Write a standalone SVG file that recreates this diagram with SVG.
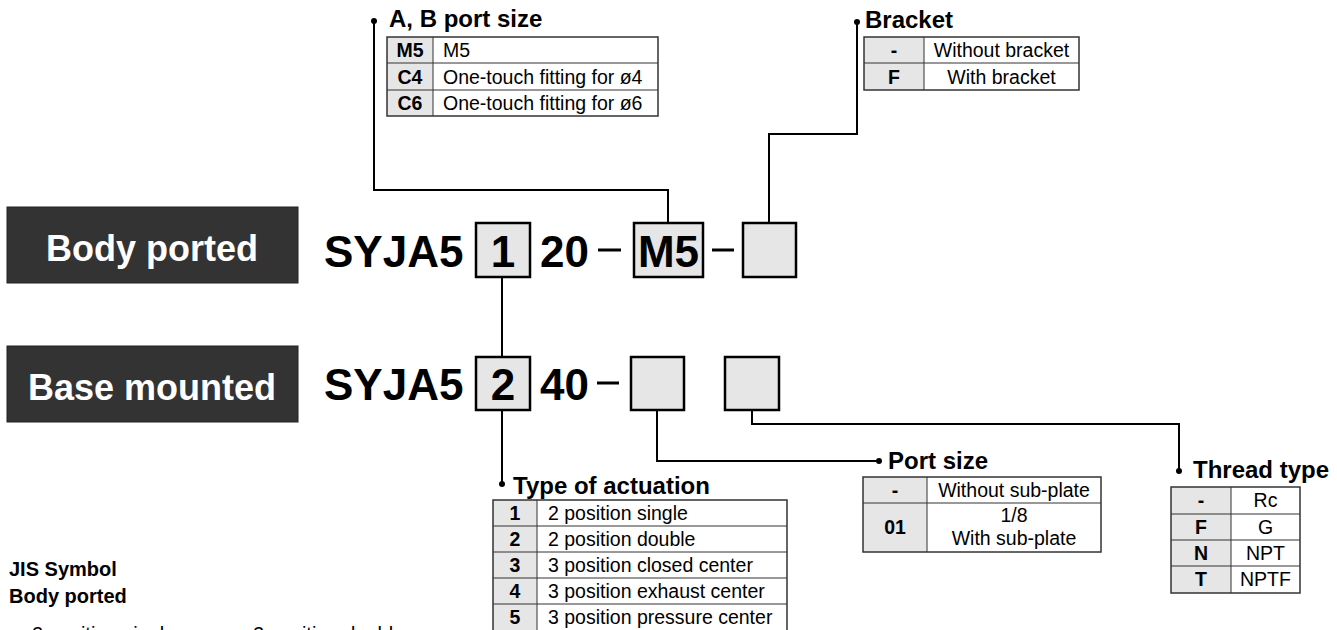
<svg xmlns="http://www.w3.org/2000/svg" width="1337" height="630" viewBox="0 0 1337 630">
<style>
text{font-family:"Liberation Sans",Arial,Helvetica,sans-serif;fill:#000}
.lbl{font-size:36px;font-weight:bold;fill:#fff}
.big{font-size:44px;font-weight:bold}
.hd{font-size:24px;font-weight:bold}
.t{font-size:19.5px}
.c{font-size:19.5px;font-weight:bold}
.mid{text-anchor:middle}
.box{fill:#e6e6e6;stroke:#000;stroke-width:2.5}
.dark{fill:#333;stroke:#222;stroke-width:1}
.code{fill:#e6e6e6}
.tb{fill:none;stroke:#333;stroke-width:1.5}
.tl{stroke:#333;stroke-width:1}
.conn{fill:none;stroke:#000;stroke-width:2}
</style>
<rect width="1337" height="630" fill="#fff"/>

<g id="body-ported-label">
<rect class="dark" x="7" y="207" width="291" height="76"/>
<text class="lbl mid" x="152" y="261">Body ported</text>
</g>
<g id="base-mounted-label">
<rect class="dark" x="7" y="346" width="291" height="76"/>
<text class="lbl mid" x="152" y="400">Base mounted</text>
</g>

<g id="model-body">
<text class="big" x="324" y="267">SYJA5</text>
<rect class="box" x="476" y="223" width="54" height="54"/>
<text class="big mid" x="503" y="267">1</text>
<text class="big" x="540" y="267">20</text>
<line x1="598" y1="250" x2="621" y2="250" stroke="#000" stroke-width="3"/>
<rect class="box" x="634" y="223" width="69" height="54"/>
<text class="big mid" x="668.5" y="267">M5</text>
<line x1="712" y1="250" x2="734" y2="250" stroke="#000" stroke-width="3"/>
<rect class="box" x="743" y="223" width="53" height="54"/>
</g>

<g id="model-base">
<text class="big" x="324" y="400">SYJA5</text>
<rect class="box" x="476" y="357" width="54" height="53"/>
<text class="big mid" x="503" y="400">2</text>
<text class="big" x="540" y="400">40</text>
<line x1="597" y1="383" x2="619" y2="383" stroke="#000" stroke-width="3"/>
<rect class="box" x="631" y="357" width="53" height="53"/>
<rect class="box" x="725" y="357" width="54" height="53"/>
</g>

<g id="connectors">
<polyline class="conn" points="668,223 668,190 374,190 374,21"/>
<polyline class="conn" points="769,223 769,134 857,134 857,22"/>
<line class="conn" x1="502" y1="277" x2="502" y2="357"/>
<line class="conn" x1="502" y1="410" x2="502" y2="484"/>
<polyline class="conn" points="657,410 657,461 879,461"/>
<polyline class="conn" points="752,410 752,424 1179,424 1179,471"/>
<circle cx="374" cy="21" r="3"/>
<circle cx="857" cy="22" r="3"/>
<circle cx="502" cy="484" r="3"/>
<circle cx="879" cy="461" r="3"/>
<circle cx="1179" cy="471" r="3"/>
</g>

<g id="ab-port-size">
<text class="hd" x="389" y="27">A, B port size</text>
<rect class="code" x="387" y="37" width="46" height="79"/>
<line class="tl" x1="387" y1="63" x2="658" y2="63"/>
<line class="tl" x1="387" y1="90" x2="658" y2="90"/>
<line class="tl" x1="433" y1="37" x2="433" y2="116"/>
<rect class="tb" x="387" y="37" width="271" height="79"/>
<text class="c mid" x="410" y="57">M5</text>
<text class="c mid" x="410" y="84">C4</text>
<text class="c mid" x="410" y="110">C6</text>
<text class="t" x="443" y="57">M5</text>
<text class="t" x="443" y="84">One-touch fitting for ø4</text>
<text class="t" x="443" y="110">One-touch fitting for ø6</text>
</g>

<g id="bracket">
<text class="hd" x="865" y="28">Bracket</text>
<rect class="code" x="864" y="37" width="60" height="53"/>
<line class="tl" x1="864" y1="63" x2="1079" y2="63"/>
<line class="tl" x1="924" y1="37" x2="924" y2="90"/>
<rect class="tb" x="864" y="37" width="215" height="53"/>
<text class="c mid" x="894" y="57">-</text>
<text class="c mid" x="894" y="84">F</text>
<text class="t mid" x="1001.5" y="57">Without bracket</text>
<text class="t mid" x="1001.5" y="84">With bracket</text>
</g>

<g id="type-of-actuation">
<text class="hd" x="513" y="494">Type of actuation</text>
<rect class="code" x="493" y="500" width="44" height="132"/>
<line class="tl" x1="493" y1="526" x2="787" y2="526"/>
<line class="tl" x1="493" y1="552" x2="787" y2="552"/>
<line class="tl" x1="493" y1="578" x2="787" y2="578"/>
<line class="tl" x1="493" y1="604" x2="787" y2="604"/>
<line class="tl" x1="537" y1="500" x2="537" y2="632"/>
<rect class="tb" x="493" y="500" width="294" height="132"/>
<text class="c mid" x="515" y="520">1</text>
<text class="c mid" x="515" y="546">2</text>
<text class="c mid" x="515" y="572">3</text>
<text class="c mid" x="515" y="598">4</text>
<text class="c mid" x="515" y="624">5</text>
<text class="t" x="548" y="520">2 position single</text>
<text class="t" x="548" y="546">2 position double</text>
<text class="t" x="548" y="572">3 position closed center</text>
<text class="t" x="548" y="598">3 position exhaust center</text>
<text class="t" x="548" y="624">3 position pressure center</text>
</g>

<g id="port-size">
<text class="hd" x="888" y="469">Port size</text>
<rect class="code" x="863" y="477" width="64" height="75"/>
<line class="tl" x1="863" y1="503" x2="1101" y2="503"/>
<line class="tl" x1="927" y1="477" x2="927" y2="552"/>
<rect class="tb" x="863" y="477" width="238" height="75"/>
<text class="c mid" x="895" y="497">-</text>
<text class="c mid" x="895" y="534">01</text>
<text class="t mid" x="1014" y="497">Without sub-plate</text>
<text class="t mid" x="1014" y="522">1/8</text>
<text class="t mid" x="1014" y="545">With sub-plate</text>
</g>

<g id="thread-type">
<text class="hd" x="1193" y="478">Thread type</text>
<rect class="code" x="1171" y="487" width="60" height="106"/>
<line class="tl" x1="1171" y1="514" x2="1300" y2="514"/>
<line class="tl" x1="1171" y1="540" x2="1300" y2="540"/>
<line class="tl" x1="1171" y1="566" x2="1300" y2="566"/>
<line class="tl" x1="1231" y1="487" x2="1231" y2="593"/>
<rect class="tb" x="1171" y="487" width="129" height="106"/>
<text class="c mid" x="1201" y="507">-</text>
<text class="c mid" x="1201" y="534">F</text>
<text class="c mid" x="1201" y="560">N</text>
<text class="c mid" x="1201" y="586">T</text>
<text class="t mid" x="1265.5" y="507">Rc</text>
<text class="t mid" x="1265.5" y="534">G</text>
<text class="t mid" x="1265.5" y="560">NPT</text>
<text class="t mid" x="1265.5" y="586">NPTF</text>
</g>

<g id="jis-symbol">
<text style="font-size:20px;font-weight:bold" x="9" y="576">JIS Symbol</text>
<text style="font-size:20px;font-weight:bold" x="9" y="603">Body ported</text>
<text style="font-size:20px" x="32" y="641">2 position single</text>
<text style="font-size:20px" x="253" y="641">2 position double</text>
</g>
</svg>
